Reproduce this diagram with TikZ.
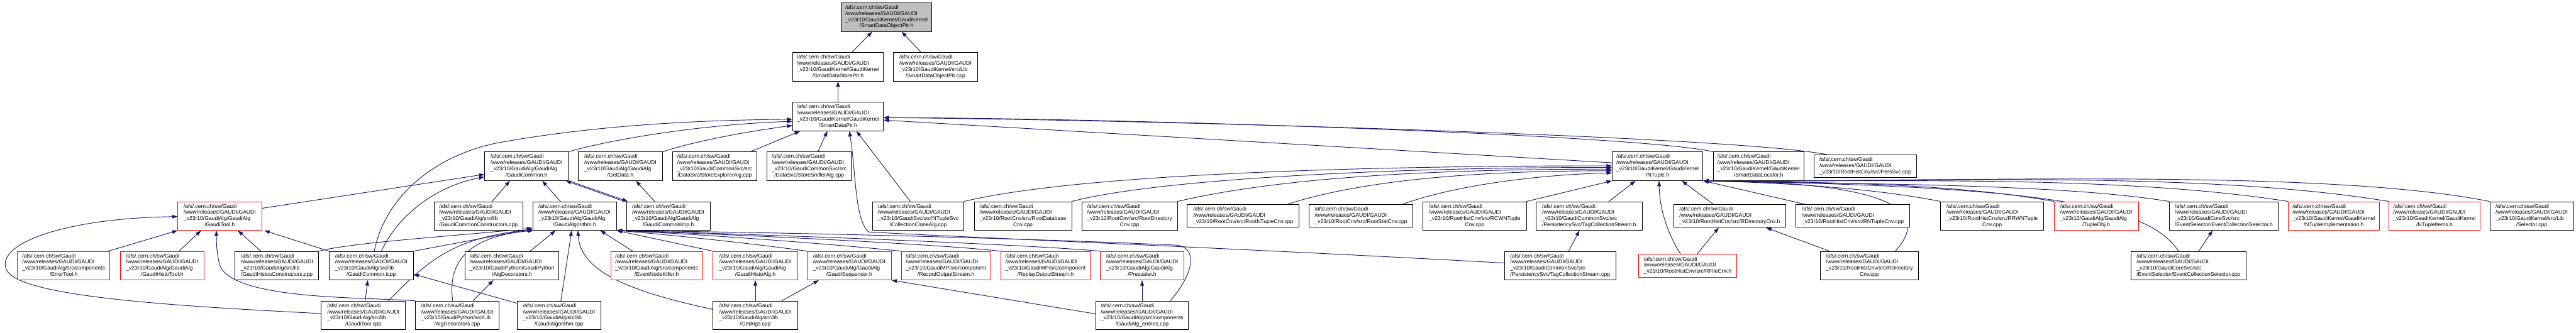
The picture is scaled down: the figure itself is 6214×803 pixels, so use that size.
\documentclass[tikz,border=0pt]{standalone}
\usepackage{fontspec}
\setmainfont{Liberation Sans}
\usetikzlibrary{arrows.meta}
\definecolor{edgec}{HTML}{191970}
\definecolor{grayfill}{HTML}{BFBFBF}
\pgfdeclarelayer{background}
\pgfsetlayers{background,main}
\newcommand{\glabA}[2]{\begin{tabular}{@{}l@{}}/afs/.cern.ch/sw/Gaudi\\/www/releases/GAUDI/GAUDI\\#1\\\multicolumn{1}{@{}c@{}}{#2}\end{tabular}}
\newcommand{\glabB}[1]{\begin{tabular}{@{}l@{}}/afs/.cern.ch/sw/Gaudi\\/www/releases/GAUDI/GAUDI\\#1\end{tabular}}
\tikzset{
  fb/.style={rectangle, draw=black, line width=1.3pt, fill=white, inner sep=0pt, minimum height=69pt, font=\fontsize{13}{14.8}\selectfont},
  rb/.style={fb, draw=red},
  th/.style={minimum height=55pt},
  dep/.style={draw=edgec, line width=1.4pt, -{Triangle[length=13pt,width=9pt]}}
}
\begin{document}
\begin{tikzpicture}[x=1pt,y=-1pt]
\useasboundingbox (0,0) rectangle (6214,803);
\begin{pgfonlayer}{background}
\fill[white] (0,0) rectangle (6214,803);
\end{pgfonlayer}
% row 0
\node[fb,fill=grayfill,minimum width=219pt] (objptrh) at (2138.5,41.5) {\glabA{\_v23r10/GaudiKernel/GaudiKernel}{/SmartDataObjectPtr.h}};
% row 1
\node[fb,minimum width=219pt] (storeptr) at (2021.5,161.5) {\glabA{\_v23r10/GaudiKernel/GaudiKernel}{/SmartDataStorePtr.h}};
\node[fb,minimum width=203pt] (objptrcpp) at (2256.5,161.5) {\glabA{\_v23r10/GaudiKernel/src/Lib}{/SmartDataObjectPtr.cpp}};
% row 2
\node[fb,minimum width=219pt] (dataptr) at (2021.5,281.5) {\glabA{\_v23r10/GaudiKernel/GaudiKernel}{/SmartDataPtr.h}};
% row 3
\node[fb,minimum width=202pt] (gcommonh) at (1270,401.5) {\glabA{\_v23r10/GaudiAlg/GaudiAlg}{/GaudiCommon.h}};
\node[fb,minimum width=203pt] (getdata) at (1496.5,401.5) {\glabA{\_v23r10/GaudiAlg/GaudiAlg}{/GetData.h}};
\node[fb,minimum width=204pt] (storeexpl) at (1724,401.5) {\glabA{\_v23r10/GaudiCommonSvc/src}{/DataSvc/StoreExplorerAlg.cpp}};
\node[fb,minimum width=204pt] (storesniff) at (1952,401.5) {\glabA{\_v23r10/GaudiCommonSvc/src}{/DataSvc/StoreSnifferAlg.cpp}};
\node[fb,minimum width=219pt] (ntupleh) at (3998.5,401.5) {\glabA{\_v23r10/GaudiKernel/GaudiKernel}{/NTuple.h}};
\node[fb,minimum width=218pt] (smartloc) at (4242,401.5) {\glabA{\_v23r10/GaudiKernel/GaudiKernel}{/SmartDataLocator.h}};
\node[fb,th,minimum width=247pt] (perssvc) at (4499.5,401.5) {\glabB{\_v23r10/RootHistCnv/src/PersSvc.cpp}};
% row 4
\node[rb,minimum width=202pt] (gtoolh) at (530,521.5) {\glabA{\_v23r10/GaudiAlg/GaudiAlg}{/GaudiTool.h}};
\node[fb,minimum width=214pt] (gcconstr) at (1154,521.5) {\glabA{\_v23r10/GaudiAlg/src/lib}{/GaudiCommonConstructors.cpp}};
\node[fb,minimum width=202pt] (galgh) at (1386,521.5) {\glabA{\_v23r10/GaudiAlg/GaudiAlg}{/GaudiAlgorithm.h}};
\node[fb,minimum width=202pt] (gcimp) at (1612,521.5) {\glabA{\_v23r10/GaudiAlg/GaudiAlg}{/GaudiCommonImp.h}};
\node[fb,minimum width=220pt] (cclone) at (2215,521.5) {\glabA{\_v23r10/GaudiSvc/src/NTupleSvc}{/CollectionCloneAlg.cpp}};
\node[fb,minimum width=235pt] (rootdb) at (2467.5,521.5) {\glabA{\_v23r10/RootCnv/src/RootDatabase}{Cnv.cpp}};
\node[fb,minimum width=230pt] (rootdir) at (2725,521.5) {\glabA{\_v23r10/RootCnv/src/RootDirectory}{Cnv.cpp}};
\node[fb,th,minimum width=270pt] (rootnt) at (2999,521.5) {\glabB{\_v23r10/RootCnv/src/RootNTupleCnv.cpp}};
\node[fb,th,minimum width=250pt] (rootstat) at (3283,521.5) {\glabB{\_v23r10/RootCnv/src/RootStatCnv.cpp}};
\node[fb,minimum width=249pt] (rcwnt) at (3557.5,521.5) {\glabA{\_v23r10/RootHistCnv/src/RCWNTuple}{Cnv.cpp}};
\node[fb,minimum width=255pt] (tagh) at (3833.5,521.5) {\glabA{\_v23r10/GaudiCommonSvc/src}{/PersistencySvc/TagCollectionStream.h}};
\node[fb,th,minimum width=271pt] (rdirh) at (4172.5,521.5) {\glabB{\_v23r10/RootHistCnv/src/RDirectoryCnv.h}};
\node[fb,th,minimum width=275pt] (rntcpp) at (4469.5,521.5) {\glabB{\_v23r10/RootHistCnv/src/RNTupleCnv.cpp}};
\node[fb,minimum width=249pt] (rrwnt) at (4805.5,521.5) {\glabA{\_v23r10/RootHistCnv/src/RRWNTuple}{Cnv.cpp}};
\node[rb,minimum width=203pt] (tupleobj) at (5056.5,521.5) {\glabA{\_v23r10/GaudiAlg/GaudiAlg}{/TupleObj.h}};
\node[fb,minimum width=263pt] (ecselh) at (5364.5,521.5) {\glabA{\_v23r10/GaudiCoreSvc/src}{/EventSelector/EventCollectionSelector.h}};
\node[rb,minimum width=219pt] (ntimpl) at (5629.5,521.5) {\glabA{\_v23r10/GaudiKernel/GaudiKernel}{/NTupleImplementation.h}};
\node[rb,minimum width=219pt] (ntitems) at (5872.5,521.5) {\glabA{\_v23r10/GaudiKernel/GaudiKernel}{/NTupleItems.h}};
\node[fb,minimum width=202pt] (selector) at (6107,521.5) {\glabA{\_v23r10/GaudiKernel/src/Lib}{/Selector.cpp}};
% row 5
\node[rb,minimum width=223pt] (errtool) at (153.5,641.5) {\glabA{\_v23r10/GaudiAlg/src/components}{/ErrorTool.h}};
\node[rb,minimum width=202pt] (ghtool) at (391,641.5) {\glabA{\_v23r10/GaudiAlg/GaudiAlg}{/GaudiHistoTool.h}};
\node[fb,minimum width=202pt] (ghconstr) at (668,641.5) {\glabA{\_v23r10/GaudiAlg/src/lib}{/GaudiHistosConstructors.cpp}};
\node[fb,minimum width=203pt] (gcicpp) at (895.5,641.5) {\glabA{\_v23r10/GaudiAlg/src/lib}{/GaudiCommon.icpp}};
\node[fb,minimum width=226pt] (algdech) at (1235,641.5) {\glabA{\_v23r10/GaudiPython/GaudiPython}{/AlgDecorators.h}};
\node[rb,minimum width=222pt] (enkiller) at (1584,641.5) {\glabA{\_v23r10/GaudiAlg/src/components}{/EventNodeKiller.h}};
\node[rb,minimum width=204pt] (ghalg) at (1822,641.5) {\glabA{\_v23r10/GaudiAlg/GaudiAlg}{/GaudiHistoAlg.h}};
\node[rb,minimum width=203pt] (gseq) at (2048.5,641.5) {\glabA{\_v23r10/GaudiAlg/GaudiAlg}{/GaudiSequencer.h}};
\node[rb,minimum width=216pt] (recout) at (2282,641.5) {\glabA{\_v23r10/GaudiMP/src/component}{/RecordOutputStream.h}};
\node[rb,minimum width=216pt] (repout) at (2522,641.5) {\glabA{\_v23r10/GaudiMP/src/component}{/ReplayOutputStream.h}};
\node[rb,minimum width=202pt] (prescaler) at (2755,641.5) {\glabA{\_v23r10/GaudiAlg/GaudiAlg}{/Prescaler.h}};
\node[fb,minimum width=269pt] (tagcpp) at (3763.5,641.5) {\glabA{\_v23r10/GaudiCommonSvc/src}{/PersistencySvc/TagCollectionStream.cpp}};
\node[rb,th,minimum width=238pt] (rfilecnv) at (4071,641.5) {\glabB{\_v23r10/RootHistCnv/src/RFileCnv.h}};
\node[fb,minimum width=237pt] (rdircpp) at (4509.5,641.5) {\glabA{\_v23r10/RootHistCnv/src/RDirectory}{Cnv.cpp}};
\node[fb,minimum width=278pt] (ecselcpp) at (5279,641.5) {\glabA{\_v23r10/GaudiCoreSvc/src}{/EventSelector/EventCollectionSelector.cpp}};
% row 6
\node[fb,minimum width=203pt] (gtoolcpp) at (876.5,761.5) {\glabA{\_v23r10/GaudiAlg/src/lib}{/GaudiTool.cpp}};
\node[fb,minimum width=202pt] (algdeccpp) at (1103,761.5) {\glabA{\_v23r10/GaudiPython/src/Lib}{/AlgDecorators.cpp}};
\node[fb,minimum width=203pt] (galgcpp) at (1348.5,761.5) {\glabA{\_v23r10/GaudiAlg/src/lib}{/GaudiAlgorithm.cpp}};
\node[fb,minimum width=204pt] (getalgs) at (1822,761.5) {\glabA{\_v23r10/GaudiAlg/src/lib}{/GetAlgs.cpp}};
\node[fb,minimum width=222pt] (entries) at (2755,761.5) {\glabA{\_v23r10/GaudiAlg/src/components}{/GaudiAlg\_entries.cpp}};

\begin{pgfonlayer}{background}
\draw[dep] ([xshift=33.5]storeptr.north) -- ([xshift=-34.5]objptrh.south);
\draw[dep] ([xshift=-34.5]objptrcpp.north) -- ([xshift=36.5]objptrh.south);
\draw[dep] (dataptr.north) -- (storeptr.south);
\draw[dep] (gcommonh.north east) .. controls (1480,335) and (1700,300) .. ([yshift=-11.5]dataptr.west);
\draw[dep] (getdata.north east) .. controls (1680,340) and (1800,318) .. ([yshift=-21.5]dataptr.west);
\draw[dep] ([xshift=86]storeexpl.north) -- ([xshift=-91.5]dataptr.south);
\draw[dep] ([xshift=21]storesniff.north) -- ([xshift=-25.5]dataptr.south);
\draw[dep] ([xshift=7.5]gcicpp.north) .. controls (925,490) and (1030,380) .. (1200,345) .. controls (1450,300) and (1700,290) .. ([yshift=-6.5]dataptr.west);
\draw[dep] ([xshift=24.5]gcicpp.north) .. controls (960,520) and (1050,450) .. ([yshift=-25.5]gcommonh.west);
\draw[dep] ([yshift=18.5]gtoolh.east) -- ([yshift=-19.5]gcommonh.west);
\draw[dep] ([xshift=33]gcconstr.north) -- ([xshift=-40]gcommonh.south);
\draw[dep] ([xshift=-34]galgh.north) -- ([xshift=38]gcommonh.south);
\draw[dep] ([xshift=-4]gcimp.north west) -- ([xshift=-7]gcommonh.south east);
\draw[dep] ([xshift=1]gcommonh.south east) -- ([xshift=4]gcimp.north west);
\draw[dep] ([xshift=-33]gcimp.north) -- ([xshift=37.5]getdata.south);
\draw[dep] ([yshift=8.5]ntupleh.west) -- ([yshift=-8.5]dataptr.east);
\draw[dep] (smartloc.north west) .. controls (3950,325) and (2700,285) .. ([yshift=-2.5]dataptr.east);
\draw[dep] ([xshift=-92.5]perssvc.north) .. controls (4200,330) and (2800,290) .. ([yshift=-2.5]dataptr.east);
\draw[dep] ([xshift=-19]cclone.north) -- ([xshift=44.5]dataptr.south);
\draw[dep] ([yshift=6.5]tagcpp.west) .. controls (3000,600) and (2300,572) .. (2095,560) .. controls (2062,530) and (2065,420) .. ([xshift=27.5]dataptr.south);
\draw[dep] ([xshift=107.5]errtool.north) -- (gtoolh.south west);
\draw[dep] ([xshift=41]ghtool.north) -- ([xshift=-45]gtoolh.south);
\draw[dep] ([xshift=-39]ghconstr.north) -- ([xshift=44]gtoolh.south);
\draw[dep] (gcicpp.north west) -- ([xshift=6]gtoolh.south east);
\draw[dep] ([yshift=4.5]gtoolcpp.west) .. controls (400,738) and (40,715) .. (15,650) .. controls (-10,590) and (150,527) .. ([yshift=-1.5]gtoolh.west);
\draw[dep] (algdeccpp.north west) .. controls (880,717) and (560,725) .. (530,640) .. controls (522,610) and (522,580) .. ([xshift=-8]gtoolh.south);
\draw[dep] ([xshift=4.5]gtoolcpp.north) -- ([xshift=-8.5]gcicpp.south);
\draw[dep] ([yshift=29.5]galgcpp.west) -- ([yshift=-20.5]gcicpp.east);
\draw[dep] ([xshift=4.5]galgcpp.north) -- ([xshift=-7]galgh.south);
\draw[dep] ([xshift=38]algdeccpp.north) -- ([xshift=-45]algdech.south);
\draw[dep] ([xshift=-11]algdeccpp.north) .. controls (1080,640) and (1120,572) .. ([xshift=2]galgh.south west);
\draw[dep] ([xshift=60.5]gtoolcpp.north) .. controls (1040,620) and (1100,575) .. ([yshift=3]galgh.south west);
\draw[dep] (ghconstr.north east) .. controls (850,585) and (1100,570) .. ([yshift=6]galgh.south west);
\draw[dep] (gcicpp.north east) -- ([yshift=4]galgh.south west);
\draw[dep] ([xshift=44]algdech.north) -- ([xshift=-46]galgh.south);
\draw[dep] ([yshift=14.5]getalgs.west) .. controls (1500,700) and (1400,650) .. ([xshift=8]galgh.south);
\draw[dep] ([xshift=-58]enkiller.north) -- ([xshift=62]galgh.south);
\draw[dep] (ghalg.north west) -- (galgh.south east);
\draw[dep] (gseq.north west) .. controls (1850,592) and (1600,565) .. (galgh.south east);
\draw[dep] (recout.north west) .. controls (2000,588) and (1650,563) .. (galgh.south east);
\draw[dep] (repout.north west) .. controls (2250,588) and (1700,563) .. (galgh.south east);
\draw[dep] (prescaler.north west) .. controls (2450,588) and (1750,563) .. (galgh.south east);
\draw[dep] ([xshift=68]entries.north) .. controls (2880,660) and (2890,600) .. (2840,592) .. controls (2400,572) and (1800,560) .. (galgh.south east);
\draw[dep] (getalgs.north) -- (ghalg.south);
\draw[dep] ([xshift=64]getalgs.north) -- ([xshift=-73.5]gseq.south);
\draw[dep] ([yshift=3.5]entries.west) -- (gseq.south east);
\draw[dep] (entries.north) -- (prescaler.south);
\draw[dep] ([xshift=20.5]tagcpp.north) -- ([xshift=-23.5]tagh.south);
\draw[dep] ([xshift=-17]rfilecnv.north) .. controls (4020,560) and (4003,500) .. ([xshift=3.5]ntupleh.south);
\draw[dep] ([xshift=23]rfilecnv.north) -- ([xshift=-26.5]rdirh.south);
\draw[dep] ([xshift=-96.5]rdircpp.north) -- ([xshift=87.5]rdirh.south);
\draw[dep] ([xshift=-39.5]rdirh.north) -- ([xshift=58.5]ntupleh.south);
\draw[dep] ([xshift=47.5]tagh.north) -- ([xshift=-53.5]ntupleh.south);
\draw[dep] (rcwnt.north east) -- (ntupleh.south west);
\draw[dep] ([xshift=100]rootstat.north) .. controls (3500,450) and (3700,422) .. ([yshift=-16]ntupleh.west);
\draw[dep] ([xshift=106]rootnt.north) .. controls (3300,430) and (3600,412) .. ([yshift=-11]ntupleh.west);
\draw[dep] (rootdir.north east) .. controls (3100,425) and (3500,408) .. ([yshift=-7]ntupleh.west);
\draw[dep] (rootdb.north east) .. controls (2800,430) and (3400,403) .. ([yshift=-3]ntupleh.west);
\draw[dep] (cclone.north east) .. controls (2600,420) and (3300,400) .. ([yshift=1]ntupleh.west);
\draw[dep] ([xshift=-114.5]rntcpp.north) -- (ntupleh.south east);
\draw[dep] ([xshift=62.5]rdircpp.north) .. controls (4650,520) and (4600,440) .. (ntupleh.south east);
\draw[dep] (rrwnt.north west) .. controls (4500,450) and (4250,440) .. (ntupleh.south east);
\draw[dep] (tupleobj.north west) .. controls (4700,440) and (4350,440) .. (ntupleh.south east);
\draw[dep] (ecselh.north west) .. controls (4950,440) and (4400,445) .. (ntupleh.south east);
\draw[dep] ([xshift=-24]ecselcpp.north) .. controls (5180,490) and (4900,450) .. (ntupleh.south east);
\draw[dep] (ntimpl.north west) .. controls (5100,420) and (4500,440) .. (ntupleh.south east);
\draw[dep] (ntitems.north west) .. controls (5300,410) and (4600,440) .. (ntupleh.south east);
\draw[dep] (selector.north west) .. controls (5600,405) and (4700,440) .. (ntupleh.south east);
\draw[dep] ([xshift=25]ecselcpp.north) -- ([xshift=-27.5]ecselh.south);
\end{pgfonlayer}
\end{tikzpicture}
\end{document}
